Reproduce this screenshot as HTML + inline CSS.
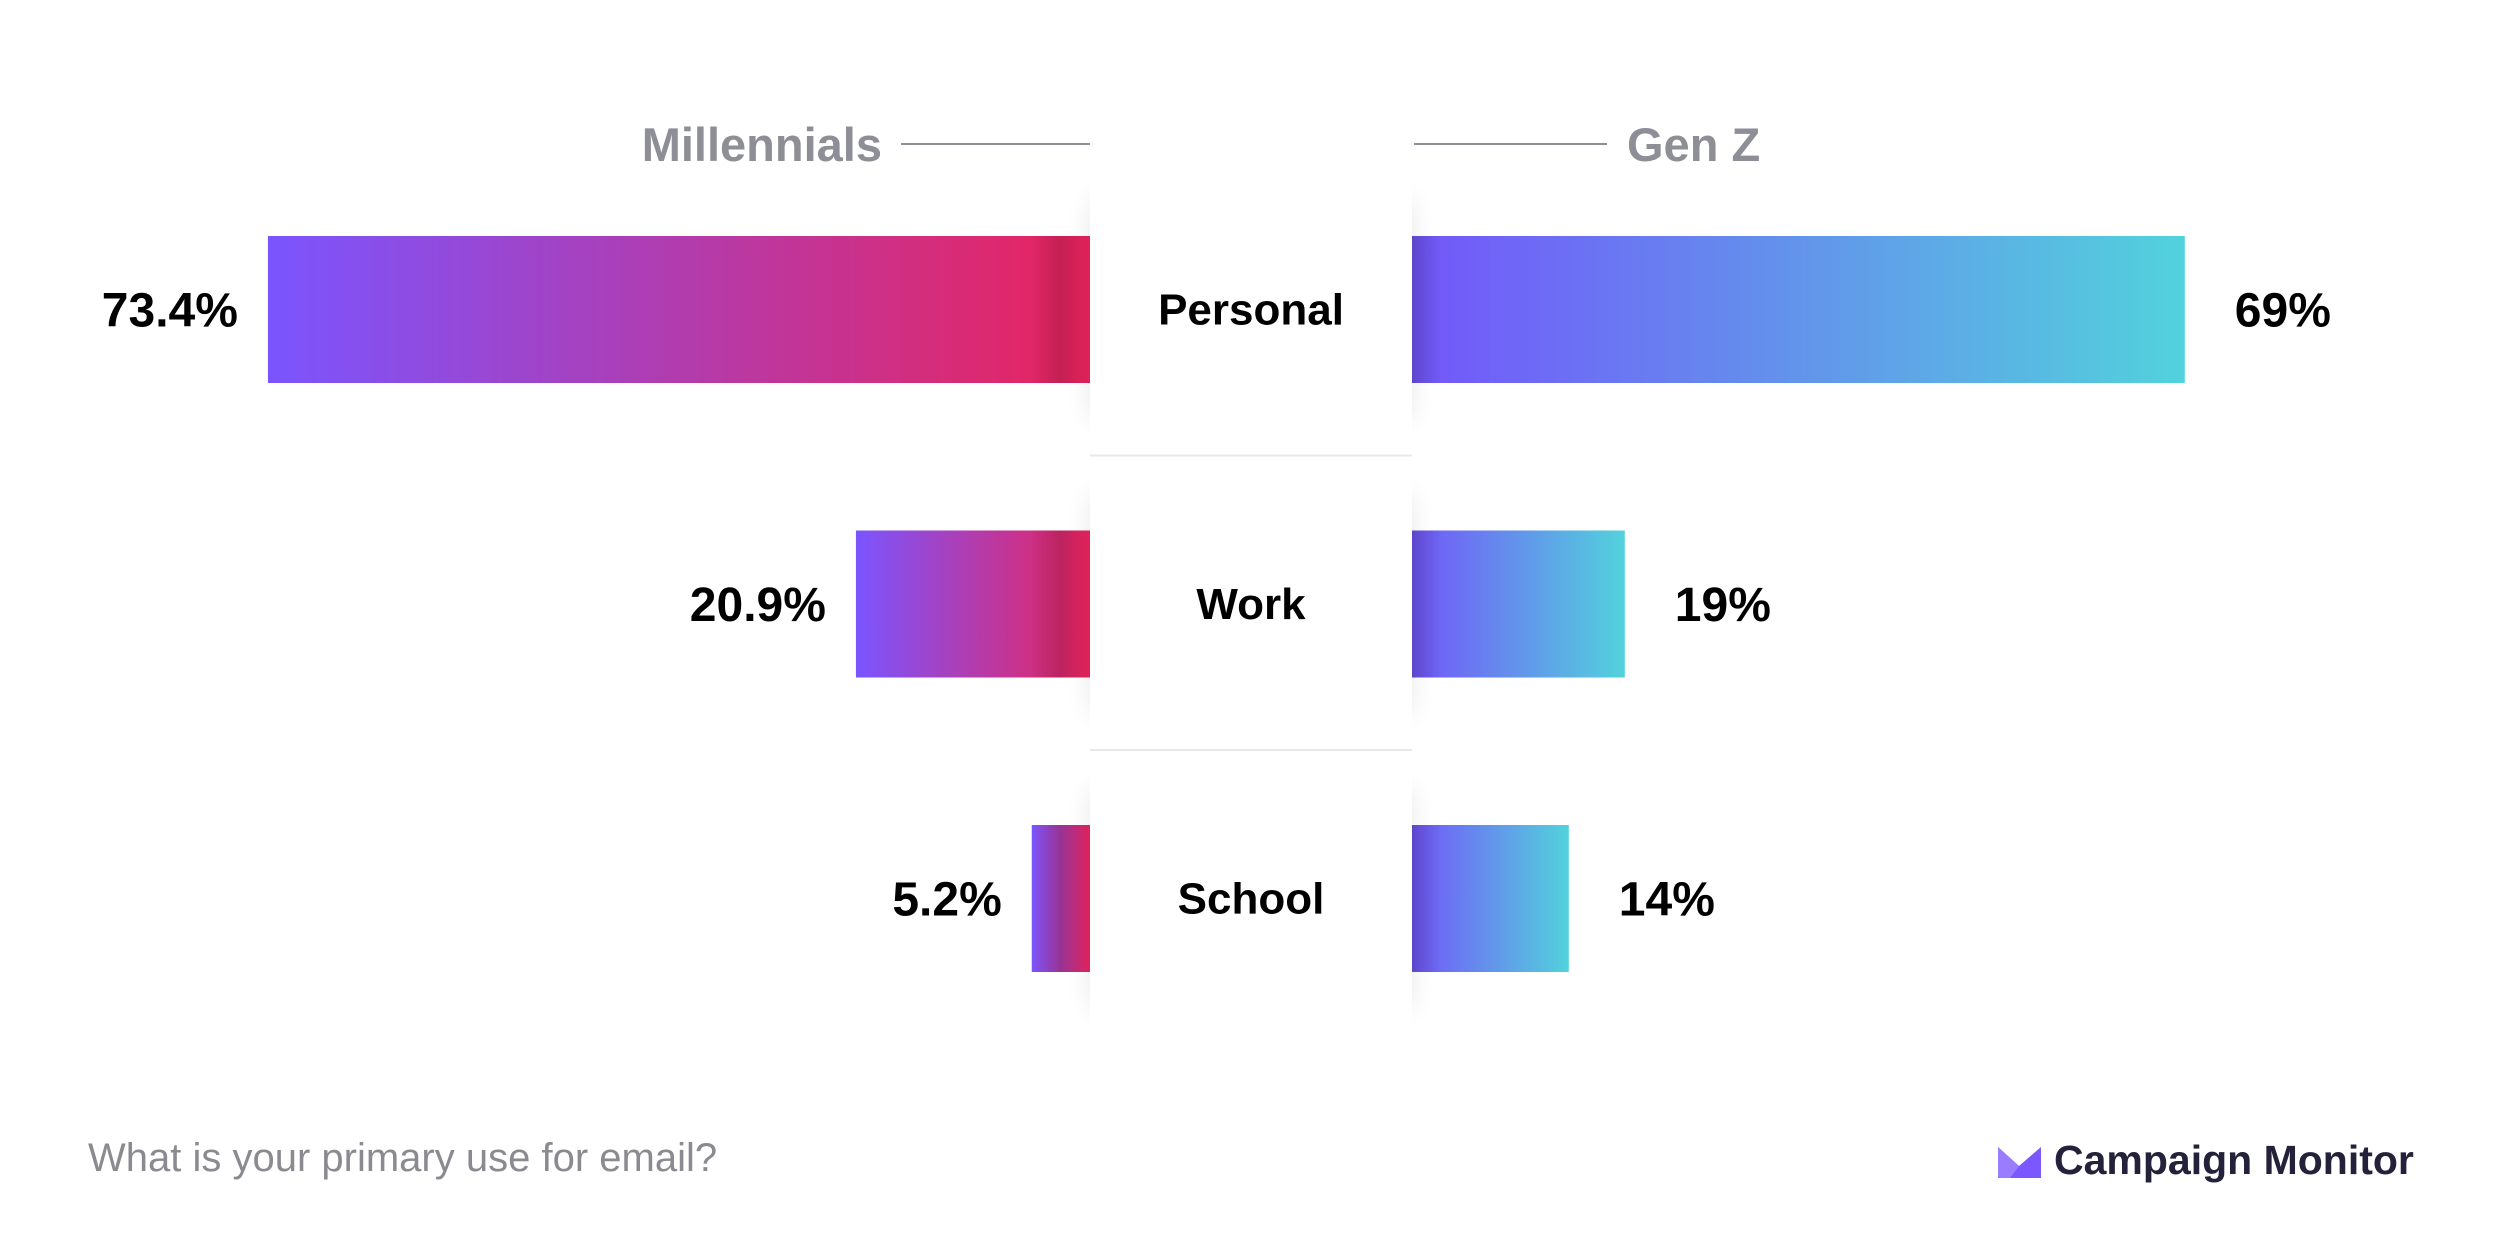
<!DOCTYPE html>
<html><head><meta charset="utf-8">
<style>
html,body{margin:0;padding:0;background:#fff;}
body{width:2500px;height:1251px;overflow:hidden;position:relative;font-family:"Liberation Sans",sans-serif;}
svg{position:absolute;left:0;top:0;}
</style></head>
<body>
<svg id="chart" width="2500" height="1251" viewBox="0 0 2500 1251">
<defs>
<linearGradient id="gL" x1="0" x2="1" y1="0" y2="0"><stop offset="0" stop-color="#7a55ff"/><stop offset="1" stop-color="#ea235c"/></linearGradient>
<linearGradient id="gR" x1="0" x2="1" y1="0" y2="0"><stop offset="0" stop-color="#7356fa"/><stop offset="1" stop-color="#52d2dc"/></linearGradient>
<linearGradient id="shL" x1="0" x2="1"><stop offset="0" stop-color="#000" stop-opacity="0"/><stop offset="0.5" stop-color="#000" stop-opacity="0.15"/><stop offset="1" stop-color="#000" stop-opacity="0"/></linearGradient>
<filter id="blur" x="-50%" y="-50%" width="200%" height="200%"><feGaussianBlur stdDeviation="14"/></filter>
</defs>
<g id="bars"></g>
<g id="center"></g>
<g id="labels"></g>
<text x="882" y="161" text-anchor="end" font-size="47" font-weight="bold" fill="#8e8e96">Millennials</text>
<line x1="901" y1="144" x2="1090" y2="144" stroke="#8e8e96" stroke-width="2"/>
<line x1="1414" y1="144" x2="1607" y2="144" stroke="#8e8e96" stroke-width="2"/>
<text x="1627" y="161" font-size="47" font-weight="bold" fill="#8e8e96">Gen Z</text>
<text x="88" y="1171" font-size="40" fill="#8a8a90">What is your primary use for email?</text>
<g>
<polygon points="1998,1147 2019,1166 2041,1147 2041,1178 1998,1178" fill="#7b57ff"/>
<polygon points="1998,1147 2019,1166 2010,1178 1998,1178" fill="#9a7dff"/>
<text x="2054" y="1174" font-size="41" font-weight="bold" fill="#24213a">Campaign Monitor</text>
</g>
</svg>
<script>
const categories = ["Personal", "Work", "School"];
const millennials = [73.4, 20.9, 5.2];
const genZ = [69, 19, 14];
const millennialsLabels = ["73.4%", "20.9%", "5.2%"];
const genZLabels = ["69%", "19%", "14%"];

const NS = "http://www.w3.org/2000/svg";
const CL = 1090, CR = 1412, PX = 11.2;
const rowTop = i => 236 + i * 294.5;
const BH = 147;
const xLen = v => v * PX;
function mk(tag, attrs, parent){const e=document.createElementNS(NS,tag);for(const k in attrs)e.setAttribute(k,attrs[k]);parent.appendChild(e);return e;}
const bars=document.getElementById('bars'), center=document.getElementById('center'), labels=document.getElementById('labels');

categories.forEach((c,i)=>{
  const y=rowTop(i);
  const wl=xLen(millennials[i]), wr=xLen(genZ[i]);
  const l=mk('rect',{x:CL-wl,y:y,width:wl,height:BH,fill:'url(#gL)'},bars);
  
  
  const r=mk('rect',{x:CR,y:y,width:wr,height:BH,fill:'url(#gR)'},bars);
  
  
  mk('rect',{x:CL-Math.min(60,wl),y:y,width:Math.min(60,wl),height:BH,fill:'url(#shL)'},bars);
  mk('rect',{x:CR-30,y:y,width:60,height:BH,fill:'url(#shL)'},bars);
  const lt=mk('text',{x:CL-wl-30,y:y+BH/2+17,'text-anchor':'end','font-size':48,'font-weight':'bold',fill:'#000'},labels);
  lt.textContent=millennialsLabels[i];
  
  
  const rt=mk('text',{x:CR+wr+50,y:y+BH/2+17,'font-size':48,'font-weight':'bold',fill:'#000'},labels);
  rt.textContent=genZLabels[i];
  
  
  mk('rect',{x:CL+4,y:y-35,width:CR-CL-8,height:BH+70,fill:'#000',opacity:0.12,filter:'url(#blur)'},center);
  const card=mk('rect',{x:CL,y:y-60,width:CR-CL,height:BH+120,fill:'#fff'},center);
  
  
  const ct=mk('text',{x:(CL+CR)/2,y:y+BH/2+15,'text-anchor':'middle','font-size':44,'font-weight':'bold',fill:'#000'},labels);
  ct.textContent=c;
  
  
  if(i>0){
    const s=mk('line',{x1:CL,x2:CR,y1:y-75,y2:y-75,stroke:'#e8e8ea','stroke-width':2},labels);
    
    
  }
});
</script>
</body></html>
